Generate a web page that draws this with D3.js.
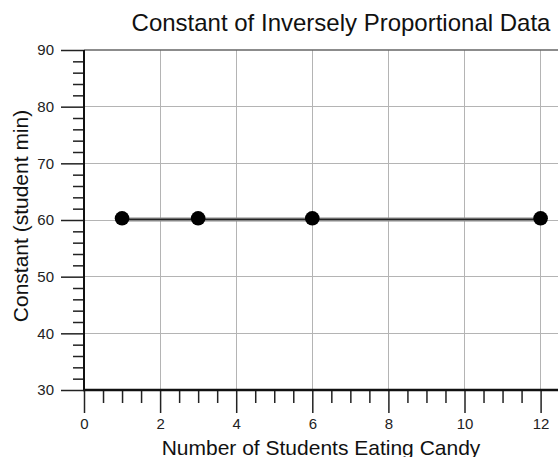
<!DOCTYPE html>
<html>
<head>
<meta charset="utf-8">
<script src="https://cdn.jsdelivr.net/npm/d3@7"></script>
<style>
  html, body { margin: 0; padding: 0; background: #fff; }
  svg { display: block; font-family: "Liberation Sans", Arial, sans-serif; }
</style>
</head>
<body>
<svg id="chart" width="558" height="457"></svg>
<script>
// Data: number of students vs. constant (students × minutes)
const students = [1, 3, 6, 12];
const constants = [60.3, 60.3, 60.3, 60.3];
const fitLine = [60.1, 60.1];   // constant fit across the data range
const xTicks = [0, 2, 4, 6, 8, 10, 12];
const yTicks = [30, 40, 50, 60, 70, 80, 90];

const svg = d3.select("#chart");
const plotLeft = 84, plotTop = 50, plotBottom = 390, plotRight = 560;

const x = d3.scaleLinear().domain([0, 12.5]).range([plotLeft, plotLeft + 12.5 * 38.05]);
const y = d3.scaleLinear().domain([30, 90]).range([plotBottom, plotTop]);

// Grid lines
const grid = svg.append("g");
grid.selectAll(".vg").data(xTicks.filter(d => d > 0)).join("line")
  .attr("x1", d => x(d)).attr("x2", d => x(d))
  .attr("y1", plotTop).attr("y2", plotBottom)
  .attr("stroke", "#b4b4b4").attr("stroke-width", 1).attr("shape-rendering", "crispEdges");
grid.selectAll(".hg").data(yTicks.filter(d => d > 30 && d < 90)).join("line")
  .attr("x1", plotLeft).attr("x2", plotRight)
  .attr("y1", d => y(d)).attr("y2", d => y(d))
  .attr("stroke", "#b4b4b4").attr("stroke-width", 1).attr("shape-rendering", "crispEdges");

// Top frame
svg.append("line").attr("x1", plotLeft).attr("x2", plotRight)
  .attr("y1", y(90)).attr("y2", y(90))
  .attr("stroke", "#666").attr("stroke-width", 1.5);

// Y axis: major ticks every 10, minor every 2
const yAxis = svg.append("g").attr("transform", `translate(${plotLeft},0)`);
yAxis.call(d3.axisLeft(y).tickValues(yTicks).tickSize(23).tickPadding(7))
  .call(g => g.select(".domain").remove())
  .call(g => g.selectAll(".tick line").attr("stroke", "#222").attr("stroke-width", 1.5))
  .call(g => g.selectAll(".tick text").attr("fill", "#222")
    .style("font-size", "15px").style("font-family", "'Liberation Sans', Arial, sans-serif"));
yAxis.append("g")
  .call(d3.axisLeft(y).tickValues(d3.range(32, 90, 2).filter(d => d % 10 !== 0)).tickSize(11).tickFormat(""))
  .call(g => g.select(".domain").remove())
  .call(g => g.selectAll(".tick line").attr("stroke", "#222").attr("stroke-width", 1.5));

// X axis: major ticks every 2, minor every 0.5
const xAxis = svg.append("g").attr("transform", `translate(0,${plotBottom})`);
xAxis.call(d3.axisBottom(x).tickValues(xTicks).tickSize(23).tickPadding(5))
  .call(g => g.select(".domain").remove())
  .call(g => g.selectAll(".tick line").attr("stroke", "#222").attr("stroke-width", 1.5))
  .call(g => g.selectAll(".tick text").attr("fill", "#222")
    .style("font-size", "15px").style("font-family", "'Liberation Sans', Arial, sans-serif"));
xAxis.append("g")
  .call(d3.axisBottom(x).tickValues(d3.range(0.5, 12.5, 0.5).filter(d => d % 2 !== 0)).tickSize(13).tickFormat(""))
  .call(g => g.select(".domain").remove())
  .call(g => g.selectAll(".tick line").attr("stroke", "#222").attr("stroke-width", 1.5));

// Axis lines
svg.append("line").attr("x1", plotLeft).attr("x2", plotLeft).attr("y1", plotTop).attr("y2", plotBottom + 1)
  .attr("stroke", "#111").attr("stroke-width", 2);
svg.append("line").attr("x1", plotLeft - 1).attr("x2", plotRight).attr("y1", plotBottom).attr("y2", plotBottom)
  .attr("stroke", "#111").attr("stroke-width", 2.5);

// Fit line
const fitX = [students[0], students[students.length - 1]];
const fitPts = fitX.map((d, i) => [x(d), y(fitLine[i])]);
svg.append("path").attr("d", d3.line()(fitPts))
  .attr("fill", "none").attr("stroke", "#888").attr("stroke-width", 4);
svg.append("path").attr("d", d3.line()(fitPts))
  .attr("fill", "none").attr("stroke", "#222").attr("stroke-width", 1.2);

// Data points
svg.selectAll(".pt").data(students).join("circle")
  .attr("cx", d => x(d)).attr("cy", (d, i) => y(constants[i]))
  .attr("r", 7.3).attr("fill", "#000");

// Title and axis titles
svg.append("text").attr("x", 341).attr("y", 31).attr("text-anchor", "middle")
  .attr("fill", "#111").style("font-size", "24px")
  .text("Constant of Inversely Proportional Data");
svg.append("text").attr("x", 321).attr("y", 455).attr("text-anchor", "middle")
  .attr("fill", "#111").style("font-size", "21px")
  .text("Number of Students Eating Candy");
svg.append("text").attr("transform", `translate(28,216) rotate(-90)`).attr("text-anchor", "middle")
  .attr("fill", "#111").style("font-size", "21px")
  .text("Constant (student min)");
</script>
</body>
</html>
